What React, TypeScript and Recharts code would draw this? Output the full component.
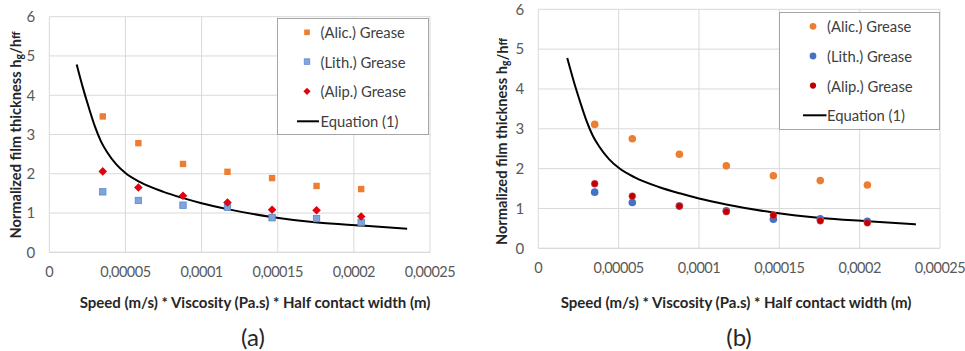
import React from "react";
import {
  ComposedChart,
  Scatter,
  Line,
  XAxis,
  YAxis,
  CartesianGrid,
  Legend,
} from "recharts";

// ---- Data ----
const xTicks = [0, 0.00005, 0.0001, 0.00015, 0.0002, 0.00025];
const xTickLabels = ["0", "0,00005", "0,0001", "0,00015", "0,0002", "0,00025"];
const yTicks = [0, 1, 2, 3, 4, 5, 6];

const speedX = [0.0000351, 0.0000585, 0.0000878, 0.000117, 0.0001463, 0.0001755, 0.0002048];

const alicA = [3.46, 2.78, 2.25, 2.05, 1.89, 1.69, 1.61];
const lithA = [1.54, 1.32, 1.2, 1.15, 0.88, 0.86, 0.76];
const alipA = [2.06, 1.65, 1.44, 1.27, 1.085, 1.07, 0.91];

const alicB = [3.11, 2.75, 2.36, 2.07, 1.82, 1.7, 1.59];
const lithB = [1.41, 1.15, 1.06, 0.94, 0.73, 0.74, 0.68];
const alipB = [1.62, 1.31, 1.06, 0.92, 0.83, 0.69, 0.64];

const eqX = [0.000018, 0.000022, 0.000026, 0.00003, 0.000034, 0.000038, 0.000044, 0.00005, 0.00006, 0.000075, 0.000088, 0.0001, 0.000117, 0.000146, 0.000176, 0.000205, 0.000235];
const eqY = [4.78, 4.2, 3.68, 3.2, 2.82, 2.55, 2.24, 2.02, 1.78, 1.54, 1.38, 1.25, 1.1, 0.9, 0.76, 0.68, 0.6];

const seriesNames = ["(Alic.) Grease", "(Lith.) Grease", "(Alip.) Grease", "Equation (1)"];

const toPts = (xs: number[], ys: number[]) => xs.map((x, i) => ({ x, y: ys[i] }));
const eqData = toPts(eqX, eqY);

const FONT = "Lato, 'Open Sans', sans-serif";

// ---- Marker shapes ----
const SquareOrange = (p: any) => (
  <rect x={p.cx - 3.2} y={p.cy - 3.2} width={6.4} height={6.4} fill="#ED7D31" />
);
const SquareBlue = (p: any) => (
  <rect x={p.cx - 3.2} y={p.cy - 3.2} width={6.4} height={6.4} fill="#7FA5DC" stroke="#5B87C9" strokeWidth={0.8} />
);
const DiamondRed = (p: any) => (
  <path d={`M${p.cx},${p.cy - 4.3}L${p.cx + 4.3},${p.cy}L${p.cx},${p.cy + 4.3}L${p.cx - 4.3},${p.cy}Z`} fill="#E3000F" />
);
const CircleOrange = (p: any) => <circle cx={p.cx} cy={p.cy} r={3.8} fill="#ED7D31" />;
const CircleBlue = (p: any) => <circle cx={p.cx} cy={p.cy} r={3.8} fill="#4472C4" />;
const CircleRed = (p: any) => <circle cx={p.cx} cy={p.cy} r={3.4} fill="#C00000" stroke="#D2434B" strokeWidth={0.6} />;

type PanelProps = {
  alic: number[];
  lith: number[];
  alip: number[];
  shapes: any[];
  margin: { top: number; right: number; bottom: number; left: number };
  legendBox: { left: number; top: number; width: number; height: number };
  legendRows: number[];
  markerX: number;
  textX: number;
  lineX: [number, number];
};

const legendMarker = (kind: string, x: number, y: number) => {
  switch (kind) {
    case "sqO":
      return <rect x={x - 2.8} y={y - 2.8} width={5.6} height={5.6} fill="#ED7D31" />;
    case "sqB":
      return <rect x={x - 2.8} y={y - 2.8} width={5.6} height={5.6} fill="#7FA5DC" stroke="#5B87C9" strokeWidth={0.7} />;
    case "diR":
      return <path d={`M${x},${y - 3.6}L${x + 3.6},${y}L${x},${y + 3.6}L${x - 3.6},${y}Z`} fill="#E3000F" />;
    case "ciO":
      return <circle cx={x} cy={y} r={3.4} fill="#ED7D31" />;
    case "ciB":
      return <circle cx={x} cy={y} r={3.4} fill="#4472C4" />;
    default:
      return <circle cx={x} cy={y} r={3.1} fill="#C00000" />;
  }
};

const TICK_FS = 14.5;

const Panel = (props: PanelProps & { markerKinds: string[] }) => {
  const { legendBox, legendRows, markerX, textX, lineX, markerKinds } = props;
  const renderLegend = () => (
    <svg width={legendBox.width} height={legendBox.height} style={{ display: "block" }}>
      <rect x={0.5} y={0.5} width={legendBox.width - 1} height={legendBox.height - 1} fill="#fff" stroke="#A6A6A6" strokeWidth={1} />
      {seriesNames.map((name, i) => (
        <g key={name}>
          {i < 3 ? (
            legendMarker(markerKinds[i], markerX, legendRows[i])
          ) : (
            <line x1={lineX[0]} x2={lineX[1]} y1={legendRows[i]} y2={legendRows[i]} stroke="#000" strokeWidth={2} />
          )}
          <text x={textX} y={legendRows[i]} dominantBaseline="central" fontSize={14.8} fill="#404040" fontFamily={FONT}>
            {name}
          </text>
        </g>
      ))}
    </svg>
  );
  return (
    <ComposedChart width={480} height={351} margin={props.margin} data={eqData}>
      <CartesianGrid stroke="#D9D9D9" strokeWidth={1} />
      <XAxis
        type="number"
        dataKey="x"
        domain={[0, 0.00025]}
        ticks={xTicks}
        tickFormatter={(v: number) => xTickLabels[xTicks.indexOf(v)] ?? String(v)}
        axisLine={{ stroke: "#D9D9D9" }}
        tickLine={false}
        tickSize={0}
        tickMargin={14.5}
        height={30}
        interval={0}
        tick={{ fill: "#595959", fontSize: TICK_FS, fontFamily: FONT, letterSpacing: -0.5 }}
      />
      <YAxis
        type="number"
        dataKey="y"
        domain={[0, 6]}
        ticks={yTicks}
        axisLine={false}
        tickLine={false}
        tickSize={0}
        tickMargin={14}
        width={40}
        interval={0}
        tick={{ fill: "#595959", fontSize: 15, fontFamily: FONT }}
      />
      <Legend
        layout="vertical"
        align="center"
        verticalAlign="middle"
        content={renderLegend}
        wrapperStyle={{ position: "absolute", left: legendBox.left, top: legendBox.top, width: legendBox.width, height: legendBox.height }}
      />
      <Line
        data={eqData}
        dataKey="y"
        name={seriesNames[3]}
        type="monotone"
        stroke="#000"
        strokeWidth={2}
        dot={false}
        isAnimationActive={false}
      />
      <Scatter name={seriesNames[0]} data={toPts(speedX, props.alic)} dataKey="y" shape={props.shapes[0]} isAnimationActive={false} />
      <Scatter name={seriesNames[1]} data={toPts(speedX, props.lith)} dataKey="y" shape={props.shapes[1]} isAnimationActive={false} />
      <Scatter name={seriesNames[2]} data={toPts(speedX, props.alip)} dataKey="y" shape={props.shapes[2]} isAnimationActive={false} />
    </ComposedChart>
  );
};

const YTitle = ({ x, y }: { x: number; y: number }) => (
  <text
    transform={`translate(${x},${y}) rotate(-90)`}
    textAnchor="middle"
    dominantBaseline="central"
    fontWeight="bold"
    fontSize={14.6}
    fill="#262626"
    fontFamily={FONT}
  >
    Normalized film thickness h
    <tspan fontSize={10.5} dy={3.5}>g</tspan>
    <tspan dy={-3.5}>/h</tspan>
    <tspan fontSize={11}>ff</tspan>
  </text>
);

export default function App() {
  return (
    <div style={{ position: "absolute", left: 0, top: 0, width: 965, height: 351, background: "#fff", overflow: "hidden" }}>
      <div style={{ position: "absolute", left: 0, top: 0 }}>
        <Panel
          alic={alicA}
          lith={lithA}
          alip={alipA}
          shapes={[SquareOrange, SquareBlue, DiamondRed]}
          markerKinds={["sqO", "sqB", "diR"]}
          margin={{ top: 16.7, right: 50, bottom: 68.7, left: 9.3 }}
          legendBox={{ left: 277, top: 17.7, width: 152, height: 117 }}
          legendRows={[14.3, 43.6, 73.3, 103.3]}
          markerX={30}
          textX={43.5}
          lineX={[20, 42]}
        />
      </div>
      <div style={{ position: "absolute", left: 485, top: 0 }}>
        <Panel
          alic={alicB}
          lith={lithB}
          alip={alipB}
          shapes={[CircleOrange, CircleBlue, CircleRed]}
          markerKinds={["ciO", "ciB", "ciR"]}
          margin={{ top: 9.3, right: 25, bottom: 72.7, left: 13.3 }}
          legendBox={{ left: 294.3, top: 11.7, width: 161, height: 118 }}
          legendRows={[14.3, 44, 73.6, 103.3]}
          markerX={34}
          textX={48}
          lineX={[24, 47.5]}
        />
      </div>
      <svg width={965} height={351} style={{ position: "absolute", left: 0, top: 0, pointerEvents: "none" }}>
        <YTitle x={15} y={135} />
        <YTitle x={501.7} y={141.5} />
        <text x={255} y={302} textAnchor="middle" dominantBaseline="central" fontWeight="bold" fontSize={15} fill="#262626" fontFamily={FONT}>
          Speed (m/s) * Viscosity (Pa.s) * Half contact width (m)
        </text>
        <text x={736} y={302} textAnchor="middle" dominantBaseline="central" fontWeight="bold" fontSize={15} fill="#262626" fontFamily={FONT}>
          Speed (m/s) * Viscosity (Pa.s) * Half contact width (m)
        </text>
        <text x={253} y={336} textAnchor="middle" dominantBaseline="central" fontSize={24} fill="#262626" fontFamily={FONT}>
          (a)
        </text>
        <text x={739} y={336} textAnchor="middle" dominantBaseline="central" fontSize={24} fill="#262626" fontFamily={FONT}>
          (b)
        </text>
      </svg>
    </div>
  );
}
